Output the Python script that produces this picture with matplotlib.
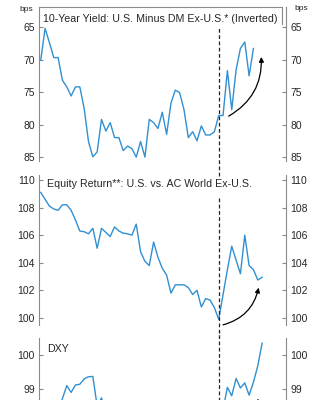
import numpy as np
import matplotlib
matplotlib.use("Agg")
import matplotlib.pyplot as plt

plt.rcParams['font.family'] = ['Liberation Sans', 'DejaVu Sans']

# --- data (weekly obs) ---
yield_gap = [70.1, 65.2, 67.4, 69.7, 69.7, 73.2, 74.2, 75.6, 74.2, 74.2,
             77.5, 82.6, 84.95, 84.2, 79.2, 81.0, 79.7, 82.0, 82.0, 84.0,
             83.3, 83.7, 85.0, 82.6, 85.0, 79.2, 79.7, 80.6, 78.1, 81.5,
             76.7, 74.7, 75.1, 77.7, 82.0, 81.1, 82.5, 80.2, 81.6, 81.6,
             81.1, 78.6, 78.6, 71.7, 77.7, 71.6, 68.3, 67.3, 72.5, 68.3]

equity_rel = [109.1, 108.6, 108.1, 107.9, 107.8, 108.2, 108.2, 107.8, 107.1, 106.3,
              106.25, 106.1, 106.5, 105.05, 106.5, 106.2, 105.9, 106.6, 106.3, 106.15,
              106.1, 106.0, 106.8, 104.8, 104.1, 103.8, 105.5, 104.4, 103.6, 103.1,
              101.8, 102.4, 102.4, 102.4, 102.2, 101.7, 102.0, 100.8, 101.4, 101.3,
              100.75, 99.9, 101.7, 103.5, 105.2, 104.2, 103.2, 106.0, 103.8, 103.5,
              102.75, 102.95]

# values below ~98.7 are cut off in the source; estimated
dxy = [98.1, 97.9, 98.2, 98.0, 98.4, 98.72, 99.1, 98.9, 99.12, 99.14,
       99.3, 99.36, 99.37, 98.5, 98.74, 98.3, 98.1, 97.9, 98.0, 97.7,
       97.8, 97.5, 97.6, 97.3, 97.4, 97.2, 97.5, 97.3, 97.6, 97.4,
       97.7, 97.5, 97.8, 97.6, 97.9, 97.7, 98.0, 97.8, 98.1, 98.0,
       98.2, 98.1, 98.4, 99.05, 98.8, 99.31, 99.03, 99.18, 98.82, 99.2,
       99.68, 100.35]

event_idx = 41  # dashed marker

titles = ["10-Year Yield: U.S. Minus DM Ex-U.S.* (Inverted)",
          "Equity Return**: U.S. vs. AC World Ex-U.S.",
          "DXY"]

LINE = '#3090d2'
GREY = '#8a8a8a'
TXT = '#262626'

W, H = 324, 400
fig = plt.figure(figsize=(W / 100, H / 100), dpi=100)


def panel(top, bot):
    ax = fig.add_axes([39 / W, 1 - bot / H, (286 - 39) / W, (bot - top) / H])
    for s in ['top', 'bottom']:
        ax.spines[s].set_visible(False)
    for s in ['left', 'right']:
        ax.spines[s].set_color(GREY)
        ax.spines[s].set_linewidth(0.8)
    ax.tick_params(axis='y', which='both', direction='in', left=True, right=True,
                   labelleft=True, labelright=True, length=3, width=0.8,
                   color=GREY, labelsize=7.5, labelcolor=TXT, pad=3)
    ax.tick_params(axis='x', bottom=False, labelbottom=False)
    ax.set_xlim(-0.4, 56.5)
    ax.patch.set_alpha(0)
    return ax


def curved_arrow(ax, x0, y0, x1, y1):
    ax.annotate('', xy=(x1, y1), xytext=(x0, y0), annotation_clip=False,
                arrowprops=dict(arrowstyle='-|>', color='black', lw=0.9,
                                mutation_scale=7, shrinkA=0, shrinkB=0,
                                connectionstyle='arc3,rad=0.3'))


# panel 1
ax1 = panel(7, 161)
ax1.plot(np.arange(len(yield_gap)), yield_gap, color=LINE, lw=1.0)
ax1.set_ylim(85.6, 61.92)
ax1.set_yticks([65, 70, 75, 80, 85])
ax1.plot([0, 0.984, 0.984], [1, 1, 1 - 17 / 154], transform=ax1.transAxes,
         color=GREY, lw=0.8, clip_on=False)
ax1.axvline(event_idx, ymin=-0.1, ymax=0.87, color='#222222', lw=0.9,
            ls=(0, (3, 2)), clip_on=False)
ax1.text(0.016, 0.922, titles[0], transform=ax1.transAxes, va='center',
         ha='left', fontsize=7.7, color=TXT)
ax1.text(-0.05, 0.985, 'bps', transform=ax1.transAxes, fontsize=6,
         color=TXT, ha='center', va='center')
ax1.text(1.06, 0.99, 'bps', transform=ax1.transAxes, fontsize=6,
         color=TXT, ha='center', va='center')
curved_arrow(ax1, 43.3, 78.7, 50.8, 69.6)

# panel 2
ax2 = panel(175, 325)
ax2.plot(np.arange(len(equity_rel)), equity_rel, color=LINE, lw=1.0)
ax2.set_ylim(99.49, 110.36)
ax2.set_yticks([100, 102, 104, 106, 108, 110])
ax2.axvline(event_idx, ymin=-0.05, ymax=0.853, color='#222222', lw=0.9,
            ls=(0, (3, 2)), clip_on=False)
ax2.text(0.031, 0.94, titles[1], transform=ax2.transAxes, va='center',
         ha='left', fontsize=7.7, color=TXT)
curved_arrow(ax2, 42.0, 99.5, 50.2, 102.2)

# panel 3 (runs off the bottom of the canvas)
ax3 = panel(338, 488)
ax3.plot(np.arange(len(dxy)), dxy, color=LINE, lw=1.0)
ax3.set_ylim(96.09, 100.5)
ax3.set_yticks([99, 100])
ax3.axvline(event_idx, ymin=0, ymax=1.05, color='#222222', lw=0.9,
            ls=(0, (3, 2)), clip_on=False)
ax3.text(0.031, 0.927, titles[2], transform=ax3.transAxes, va='center',
         ha='left', fontsize=7.7, color=TXT)
curved_arrow(ax3, 42.0, 97.56, 50.1, 98.72)

fig.savefig('out.png', dpi=100)
